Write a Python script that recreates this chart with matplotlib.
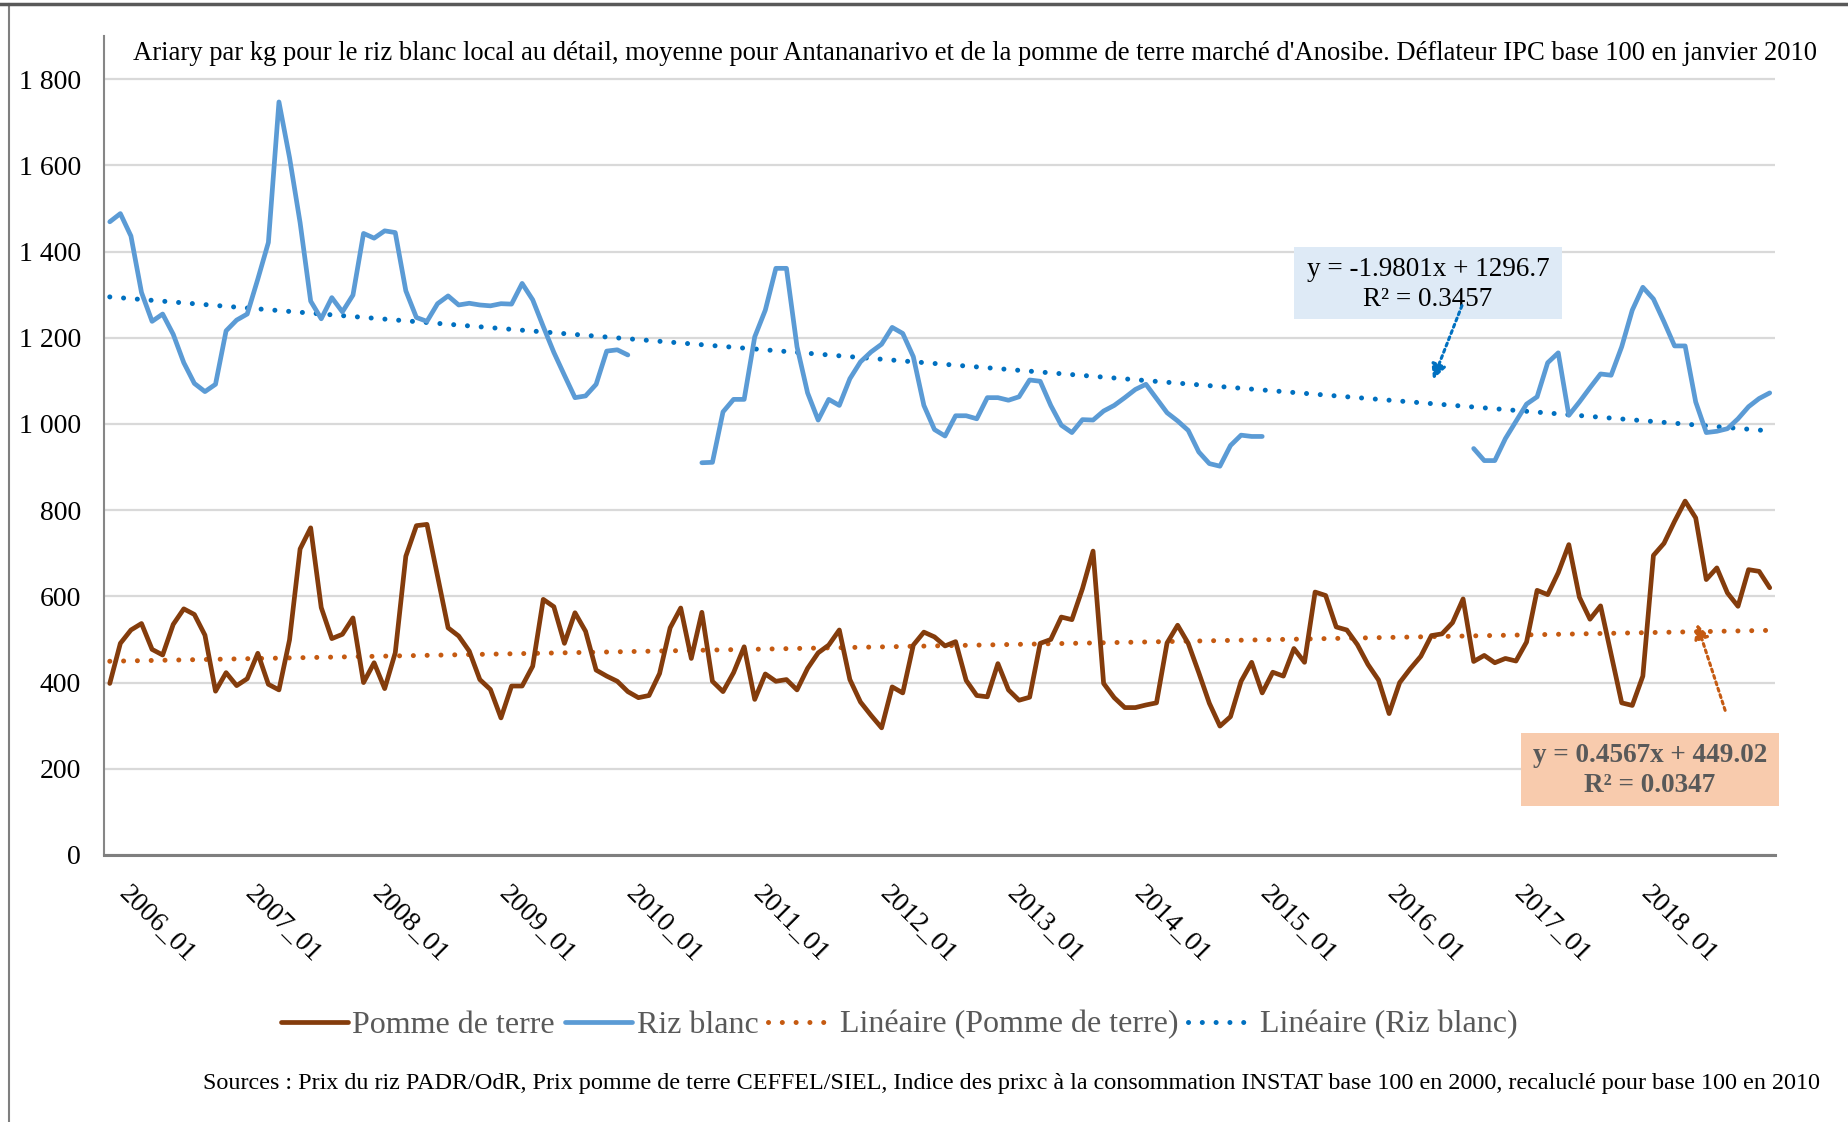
import numpy as np
import pandas as pd
import matplotlib
matplotlib.use("Agg")
import matplotlib.pyplot as plt
from matplotlib.lines import Line2D
from matplotlib.patches import Rectangle, FancyArrowPatch

plt.rcParams['font.family'] = ['Liberation Serif', 'DejaVu Serif']

# ---------------- data ----------------
months = pd.period_range("2005-11", "2018-12", freq="M")
month_labels = [m.strftime("%Y_%m") for m in months]

N = None
riz_blanc = [
    1469, 1488, 1436, 1305, 1238, 1255, 1208, 1142, 1094, 1075, 1092, 1216,
    1241, 1255, 1336, 1421, 1747, 1618, 1467, 1285, 1244, 1293, 1260, 1299,
    1442, 1431, 1448, 1444, 1309, 1247, 1238, 1279, 1297, 1276, 1280, 1276,
    1274, 1279, 1278, 1326, 1288, 1226, 1166, 1113, 1061, 1065, 1092, 1169,
    1172, 1160,
    N, N, N, N, N, N,
    910, 911, 1028, 1057, 1057, 1202, 1264, 1361, 1361, 1179, 1072, 1009,
    1057, 1043, 1105, 1144, 1167, 1185, 1224, 1210, 1156, 1043, 987, 972,
    1019, 1019, 1012, 1061, 1061, 1055, 1063, 1102, 1099, 1043, 997, 980,
    1010, 1009, 1030, 1043, 1061, 1080, 1092, 1059, 1026, 1007, 985, 935,
    908, 902, 950, 974, 971, 971,
    N, N, N, N, N, N, N, N, N, N, N, N, N, N, N, N, N, N, N,
    943, 915, 915, 966, 1006, 1046, 1063, 1142, 1165, 1020, 1051, 1084,
    1116, 1113, 1179, 1264, 1317, 1290, 1237, 1181, 1181, 1051, 980, 983,
    989, 1012, 1040, 1059, 1072,
]

pomme_de_terre = [
    398, 491, 522, 537, 477, 464, 535, 571, 558, 510, 380, 423,
    393, 409, 468, 396, 383, 499, 710, 759, 574, 502, 512, 550,
    400, 446, 386, 469, 693, 764, 767, 647, 527, 508, 473, 407,
    384, 318, 392, 392, 438, 593, 576, 491, 562, 519, 429, 415,
    403, 379, 365,
    370, 421, 527, 573, 456, 563, 403, 379, 423, 483, 361, 420,
    403, 407, 383, 433, 469, 487, 522, 407, 355, 324, 295, 390,
    376, 487, 517, 506, 485, 495, 405, 370, 367, 444, 383, 359,
    366, 491, 500, 552, 546, 618, 705, 398, 365, 342, 342, 348,
    353, 492, 533, 491, 423, 352, 299, 321, 403, 447, 376, 424,
    415, 479,
    447, 610, 602, 529, 522, 488, 442, 406, 328, 400, 432, 461,
    509, 513, 539, 594, 449, 463, 446, 456, 450, 494, 614, 604,
    655, 720, 598, 547, 578, 466, 353, 347, 415, 695, 723, 774,
    821, 782, 639, 666, 608, 577, 662, 658, 620,
]

# Excel linear trend coefficients (x = 1..n)
trend_riz = (-1.9801, 1296.7)
trend_pdt = (0.4567, 449.02)

series_names = ["Pomme de terre", "Riz blanc",
                "Linéaire (Pomme de terre)", "Linéaire (Riz blanc)"]
y_ticks = [0, 200, 400, 600, 800, 1000, 1200, 1400, 1600, 1800]
x_tick_labels = ["2006_01", "2007_01", "2008_01", "2009_01", "2010_01",
                 "2011_01", "2012_01", "2013_01", "2014_01", "2015_01",
                 "2016_01", "2017_01", "2018_01"]

title = ("Ariary par kg pour le riz blanc local au détail, moyenne pour "
         "Antananarivo et de la pomme de terre marché d'Anosibe. Déflateur "
         "IPC base 100 en janvier 2010")
source = ("Sources : Prix du riz PADR/OdR, Prix pomme de terre CEFFEL/SIEL, "
          "Indice des prixc à la consommation INSTAT base 100 en 2000, "
          "recaluclé pour base 100 en 2010")
eq_riz = ["y = -1.9801x + 1296.7", "R² = 0.3457"]
eq_pdt = ["y = 0.4567x + 449.02", "R² = 0.0347"]

# ---------------- figure ----------------
W, H = 1849, 1122
fig = plt.figure(figsize=(W / 100, H / 100), dpi=100)

def fx(x):
    return x / W

def fy(y):
    return 1 - y / H

ax = fig.add_axes([fx(104.5), fy(855), fx(1775) - fx(104.5), fy(36) - fy(855)])

x = np.arange(len(months))
riz = np.array([np.nan if v is None else v for v in riz_blanc], dtype=float)
pdt = np.array(pomme_de_terre, dtype=float)
xe = x + 1
tr_riz = trend_riz[0] * xe + trend_riz[1]
tr_pdt = trend_pdt[0] * xe + trend_pdt[1]

c_pdt = "#843C0C"
c_riz = "#5B9BD5"
c_tpdt = "#C55A11"
c_triz = "#0070C0"
lw = 3.4
dot = (0, (0.01, 2.75))

l1, = ax.plot(x, pdt, color=c_pdt, lw=lw, solid_joinstyle='round',
              solid_capstyle='round', zorder=4)
l2, = ax.plot(x, riz, color=c_riz, lw=lw, solid_joinstyle='round',
              solid_capstyle='round', zorder=4)
l3, = ax.plot(x, tr_pdt, color=c_tpdt, lw=3.6, linestyle=dot,
              dash_capstyle='round', zorder=3)
l4, = ax.plot(x, tr_riz, color=c_triz, lw=3.6, linestyle=dot,
              dash_capstyle='round', zorder=3)

ax.set_xlim(-0.5, len(months) - 0.5)
ax.set_ylim(0, 1900)
ax.set_yticks(y_ticks)
ax.set_yticklabels([f"{v:,}".replace(",", " ") for v in y_ticks],
                   fontsize=20, color="black")
tick_pos = [month_labels.index(lbl) for lbl in x_tick_labels]
ax.set_xticks(tick_pos)
ax.set_xticklabels(x_tick_labels, rotation=-45, ha='left', va='top',
                   rotation_mode='anchor', fontsize=20, color="black")
ax.tick_params(axis='x', length=0, pad=19)
ax.tick_params(axis='y', length=0, pad=17)

ax.yaxis.grid(True, color="#D9D9D9", lw=1.6, zorder=0)
ax.set_axisbelow(True)
for s in ["top", "right"]:
    ax.spines[s].set_visible(False)
ax.spines["left"].set_color("#868686")
ax.spines["left"].set_linewidth(1.5)
ax.spines["bottom"].set_color("#7F7F7F")
ax.spines["bottom"].set_linewidth(2.2)

# title
fig.text(fx(133), fy(53), title, ha='left', va='center', fontsize=19.2,
         color="black")

# equation boxes
fig.patches.append(Rectangle((fx(1294), fy(319)), fx(1562) - fx(1294),
                             fy(247) - fy(319), transform=fig.transFigure,
                             facecolor="#DEEAF6", edgecolor="none", zorder=5))
fig.text(fx(1428), fy(270), eq_riz[0], ha='center', va='center',
         fontsize=19.5, color="black", zorder=6)
fig.text(fx(1428), fy(300), eq_riz[1], ha='center', va='center',
         fontsize=19.5, color="black", zorder=6)

fig.patches.append(Rectangle((fx(1521), fy(806)), fx(1779) - fx(1521),
                             fy(733) - fy(806), transform=fig.transFigure,
                             facecolor="#F8CBAD", edgecolor="none", zorder=5))
fig.text(fx(1650), fy(755), eq_pdt[0], ha='center', va='center',
         fontsize=19.5, color="#595959", fontweight='bold', zorder=6)
fig.text(fx(1650), fy(786), eq_pdt[1], ha='center', va='center',
         fontsize=19.5, color="#595959", fontweight='bold', zorder=6)

# leader arrows
for (x0, y0, x1, y1, c) in [(1463, 303, 1432, 382, c_triz),
                            (1726, 713, 1696, 621, c_tpdt)]:
    arr = FancyArrowPatch((fx(x0), fy(y0)), (fx(x1), fy(y1)),
                          transform=fig.transFigure, arrowstyle='-|>',
                          mutation_scale=22, color=c, lw=2.2,
                          linestyle=(0, (1, 1.2)), zorder=7)
    fig.patches.append(arr)

# legend
leg = fig.legend([l1, l2, l3, l4], series_names, loc='center',
                 bbox_to_anchor=(fx(899), fy(1025)), ncol=4, frameon=False,
                 fontsize=23, handlelength=2.1, handletextpad=0.15,
                 columnspacing=0.3, labelcolor="#595959")

# sources
fig.text(fx(1820), fy(1083), source, ha='right', va='center', fontsize=17.4,
         color="black")

# outer frame lines
fig.add_artist(Line2D([fx(9), fx(9)], [0, fy(4)], transform=fig.transFigure,
                      color="#7F7F7F", lw=1.5))
fig.add_artist(Line2D([0, 1], [fy(4), fy(4)], transform=fig.transFigure,
                      color="#595959", lw=2.5))

fig.savefig("out.png", dpi=100)
